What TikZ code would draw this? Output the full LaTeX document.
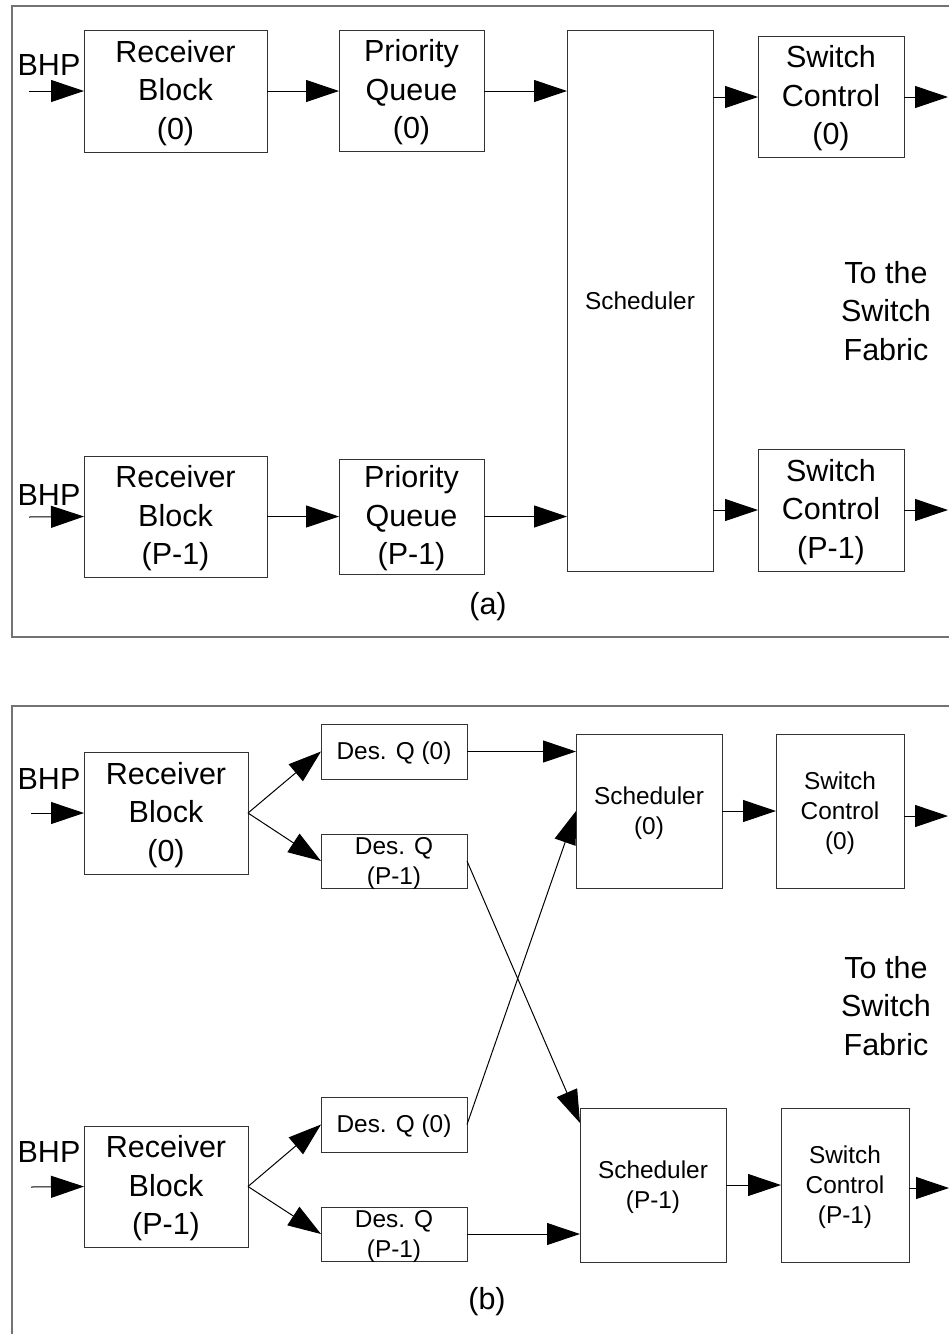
\documentclass[tikz,border=0pt]{standalone}
\usepackage{fontspec}
\setmainfont{Liberation Sans}
\usetikzlibrary{arrows.meta,calc}

\tikzset{
  box/.style={draw=black!80, line width=1pt, inner sep=0pt, outer sep=0pt},
  big/.style={font=\fontsize{30.5}{38.5}\selectfont, align=center, inner sep=0pt},
  small/.style={font=\fontsize{24.4}{30}\selectfont, align=center, inner sep=0pt},
  inbig/.style={big, yshift=-2pt},
  insmall/.style={small, yshift=-2pt},
  arr/.style={line width=1pt, -{Triangle[length=33pt,width=22pt]}},
  frame/.style={draw=black!55, line width=1.6pt}
}

\begin{document}
\begin{tikzpicture}[x=1pt,y=-1pt]
\useasboundingbox (0,0) rectangle (949,1334);

% ---------- panel frames (open on the right) ----------
\draw[frame] (949,6) -- (12,6) -- (12,637) -- (949,637);
\draw[frame] (949,706) -- (12,706) -- (12,1334);

% ================= (a) =================
\node[box, minimum width=183, minimum height=122,
      label={[inbig]center:{Receiver\\Block\\(0)}}] (ra0) at (175.5,91) {};
\node[box, minimum width=183, minimum height=121,
      label={[inbig]center:{Receiver\\Block\\(P-1)}}] (rap) at (175.5,516.5) {};
\node[box, minimum width=145, minimum height=121,
      label={[inbig]center:{Priority\\Queue\\(0)}}] (pq0) at (411.5,90.5) {};
\node[box, minimum width=145, minimum height=115,
      label={[inbig]center:{Priority\\Queue\\(P-1)}}] (pqp) at (411.5,516.5) {};
\node[box, minimum width=146, minimum height=541,
      label={[small]center:Scheduler}] (sch) at (640,300.5) {};
\node[box, minimum width=146, minimum height=121,
      label={[inbig]center:{Switch\\Control\\(0)}}] (sc0) at (831,96.5) {};
\node[box, minimum width=146, minimum height=122,
      label={[inbig]center:{Switch\\Control\\(P-1)}}] (scp) at (831,510) {};

\node[big, anchor=base] (bhpa0) at (49,75) {BHP};
\node[big, anchor=base] (bhpap) at (49,505) {BHP};
\node[big] (fabrica) at (886,311) {To the\\Switch\\Fabric};
\node[big] (capa) at (488,607) {(a)};

\coordinate (ina0) at (29,91);
\coordinate (inap) at (29,517);
\coordinate (outa0) at (948,97);
\coordinate (outap) at (948,510);

\draw[arr] (ina0) -- (ra0.west);
\draw[arr] (inap) -- (rap.west);
\draw[arr] (ra0.east) -- (pq0.west |- ra0.east);
\draw[arr] (rap.east) -- (pqp.west |- rap.east);
\draw[arr] (pq0.east |- ra0.east) -- (sch.west |- ra0.east);
\draw[arr] (pqp.east |- rap.east) -- (sch.west |- rap.east);
\draw[arr] (sch.east |- outa0) -- (sc0.west |- outa0);
\draw[arr] (sch.east |- outap) -- (scp.west |- outap);
\draw[arr] (sc0.east |- outa0) -- (outa0);
\draw[arr] (scp.east |- outap) -- (outap);

% ================= (b) =================
\node[box, minimum width=164, minimum height=122,
      label={[inbig]center:{Receiver\\Block\\(0)}}] (rb0) at (166,813) {};
\node[box, minimum width=164, minimum height=121,
      label={[inbig]center:{Receiver\\Block\\(P-1)}}] (rbp) at (166,1186.5) {};

\node[box, minimum width=146, minimum height=55,
      label={[insmall]center:{Des. Q (0)}}] (dqa0) at (394,751.5) {};
\node[box, minimum width=146, minimum height=54,
      label={[insmall]center:{Des. Q\\(P-1)}}] (dqa1) at (394,861) {};
\node[box, minimum width=146, minimum height=55,
      label={[insmall]center:{Des. Q (0)}}] (dqb0) at (394,1124.5) {};
\node[box, minimum width=146, minimum height=54,
      label={[insmall]center:{Des. Q\\(P-1)}}] (dqb1) at (394,1234) {};

\node[box, minimum width=146, minimum height=154,
      label={[insmall]center:{Scheduler\\(0)}}] (s0) at (649,811) {};
\node[box, minimum width=146, minimum height=154,
      label={[insmall]center:{Scheduler\\(P-1)}}] (sp) at (653,1185) {};
\node[box, minimum width=128, minimum height=154,
      label={[insmall]center:{Switch\\Control\\(0)}}] (c0) at (840,811) {};
\node[box, minimum width=128, minimum height=154,
      label={[insmall]center:{Switch\\Control\\(P-1)}}] (cp) at (845,1185) {};

\node[big, anchor=base] (bhpb0) at (49,789) {BHP};
\node[big, anchor=base] (bhpbp) at (49,1162) {BHP};
\node[big] (fabricb) at (886,1006) {To the\\Switch\\Fabric};
\node[big] (capb) at (487,1302) {(b)};

\coordinate (inb0) at (31,813);
\coordinate (inbp) at (31,1187);
\coordinate (outb0) at (948,816);
\coordinate (outbp) at (949,1188);

\draw[arr] (inb0) -- (rb0.west);
\draw[arr] (inbp) -- (rbp.west);
\draw[arr] (rb0.east) -- (dqa0.west);
\draw[arr] (rb0.east) -- (dqa1.west);
\draw[arr] (rbp.east) -- (dqb0.west);
\draw[arr] (rbp.east) -- (dqb1.west);

\draw[arr] (dqa0.east) -- (dqa0.east -| s0.west);
\draw[arr] (dqa1.east) -- ($(sp.north west)+(0,15)$);
\draw[arr] (dqb0.east) -- (s0.west);
\draw[arr] (dqb1.east) -- (dqb1.east -| sp.west);

\draw[arr] (s0.east) -- (c0.west);
\draw[arr] (sp.east) -- (cp.west);
\draw[arr] (c0.east |- outb0) -- (outb0);
\draw[arr] (cp.east |- outbp) -- (outbp);
\end{tikzpicture}
\end{document}
